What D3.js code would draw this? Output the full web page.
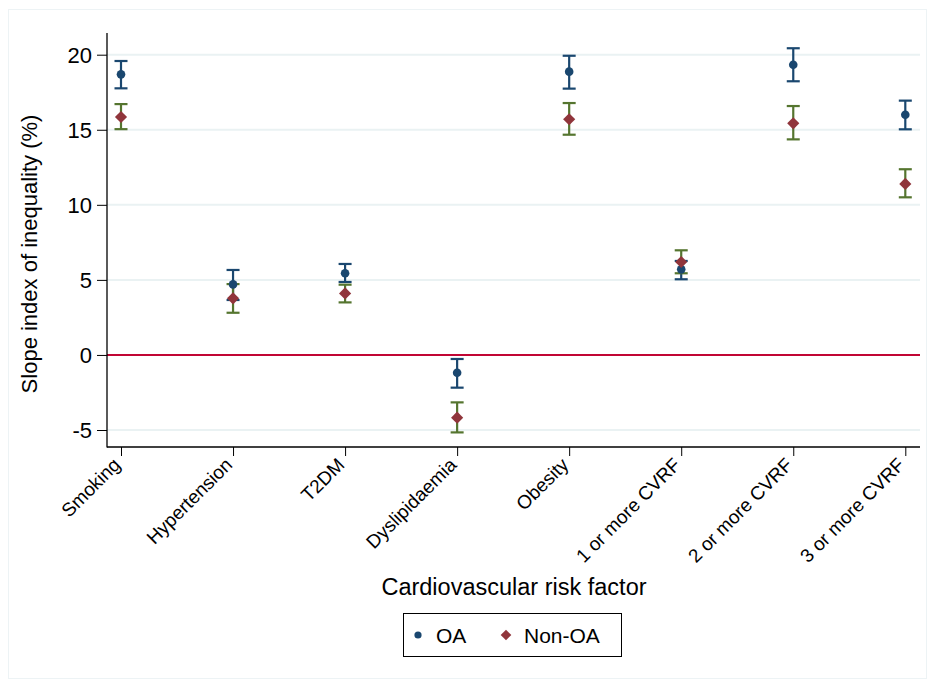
<!DOCTYPE html>
<html><head><meta charset="utf-8">
<script src="https://cdn.jsdelivr.net/npm/d3@7"></script>
<style>body{margin:0;background:#fff}svg{display:block}text{font-family:"Liberation Sans",Arial,sans-serif;fill:#000}</style>
</head><body><svg id="c" width="930" height="684"></svg>
<script>
const categories = ["Smoking","Hypertension","T2DM","Dyslipidaemia","Obesity","1 or more CVRF","2 or more CVRF","3 or more CVRF"];
const oaEst   = [18.69, 4.70, 5.44, -1.19, 18.87, 5.70, 19.33, 16.00];
const oaLow   = [17.76, 3.66, 4.86, -2.18, 17.74, 5.04, 18.23, 15.03];
const oaHigh  = [19.58, 5.66, 6.06, -0.27, 19.93, 6.26, 20.43, 16.94];
const nonEst  = [15.85, 3.77, 4.10, -4.18, 15.70, 6.19, 15.43, 11.39];
const nonLow  = [15.04, 2.81, 3.50, -5.16, 14.67, 5.44, 14.36, 10.50];
const nonHigh = [16.71, 4.72, 4.68, -3.16, 16.78, 6.97, 16.58, 12.37];
const yTicks = [-5, 0, 5, 10, 15, 20];
const gridValues = [-5, 5, 10, 15, 20];
const seriesNames = ["OA", "Non-OA"];

const svg = d3.select("#c");
const C = {navy:"#1a476f", maroon:"#90353b", green:"#55752f", red:"#c10534", grid:"#eaf2f3"};
const FONT = '"Liberation Sans",Arial,sans-serif';

svg.append("rect").attr("x",8.5).attr("y",9.5).attr("width",918).attr("height",669)
  .attr("fill","#fff").attr("stroke","#edf3f5").attr("stroke-width",1);

const L=107, R=920, T=33, B=447;
const y = d3.scaleLinear().domain([-5,20]).range([430,54.7]);
const x = d3.scalePoint().domain(categories).range([121,905.3]);

// grid
svg.append("g").selectAll("line").data(gridValues).join("line")
  .attr("x1",L).attr("x2",R).attr("y1",d=>y(d)).attr("y2",d=>y(d))
  .attr("stroke",C.grid).attr("stroke-width",2);
// zero line
svg.append("line").attr("x1",L).attr("x2",R).attr("y1",y(0)).attr("y2",y(0))
  .attr("stroke",C.red).attr("stroke-width",2);

// axes
const yAxis = d3.axisLeft(y).tickValues(yTicks).tickSize(10).tickPadding(5).tickFormat(d => String(d));
const gy = svg.append("g").attr("transform",`translate(${L},0)`).call(yAxis);
gy.select(".domain").remove();
gy.selectAll(".tick line").attr("stroke","#000").attr("stroke-width",1);
gy.selectAll("text").attr("font-size",22).style("font-family",FONT).attr("dy","0.36em");
svg.append("line").attr("x1",L).attr("x2",L).attr("y1",T).attr("y2",B+0.5).attr("stroke","#000").attr("stroke-width",1.3);

const xAxis = d3.axisBottom(x).tickSize(9).tickPadding(3);
const gx = svg.append("g").attr("transform",`translate(0,${B})`).call(xAxis);
gx.select(".domain").remove();
gx.selectAll(".tick line").attr("stroke","#000").attr("stroke-width",1);
gx.selectAll("text").attr("font-size",19).attr("text-anchor","end")
  .style("font-family",FONT)
  .attr("dy",0).attr("y",0).attr("transform","translate(0,19) rotate(-45)");
svg.append("line").attr("x1",L).attr("x2",R).attr("y1",B).attr("y2",B).attr("stroke","#000").attr("stroke-width",1.3);

// titles
svg.append("text").attr("transform",`translate(37,254) rotate(-90)`).attr("text-anchor","middle")
  .attr("font-size",22).text("Slope index of inequality (%)");
svg.append("text").attr("x",514).attr("y",595).attr("text-anchor","middle")
  .attr("font-size",23.5).text("Cardiovascular risk factor");

// error bars
function drawCI(low, high, color){
  const g = svg.append("g").attr("stroke",color).attr("stroke-width",2.2).attr("fill","none");
  const idx = d3.range(categories.length);
  g.selectAll(".v").data(idx).join("line")
    .attr("x1",i=>x(categories[i])).attr("x2",i=>x(categories[i]))
    .attr("y1",i=>y(low[i])).attr("y2",i=>y(high[i]));
  g.selectAll(".l").data(idx).join("line")
    .attr("x1",i=>x(categories[i])-6.5).attr("x2",i=>x(categories[i])+6.5)
    .attr("y1",i=>y(low[i])).attr("y2",i=>y(low[i]));
  g.selectAll(".h").data(idx).join("line")
    .attr("x1",i=>x(categories[i])-6.5).attr("x2",i=>x(categories[i])+6.5)
    .attr("y1",i=>y(high[i])).attr("y2",i=>y(high[i]));
}
drawCI(oaLow, oaHigh, C.navy);
drawCI(nonLow, nonHigh, C.green);

const circ = d3.symbol().type(d3.symbolCircle).size(Math.PI*4.3*4.3);
const diam = d3.symbol().type(d3.symbolSquare).size(8.6*8.6);
svg.append("g").selectAll("path").data(oaEst).join("path")
  .attr("d",circ).attr("fill",C.navy)
  .attr("transform",(d,i)=>`translate(${x(categories[i])},${y(d)})`);
svg.append("g").selectAll("path").data(nonEst).join("path")
  .attr("d",diam).attr("fill",C.maroon)
  .attr("transform",(d,i)=>`translate(${x(categories[i])},${y(d)}) rotate(45)`);

// legend
const lg = svg.append("g");
lg.append("rect").attr("x",403.5).attr("y",613.5).attr("width",218).attr("height",43)
  .attr("fill","#fff").attr("stroke","#000").attr("stroke-width",1);
lg.append("path").attr("d",d3.symbol().type(d3.symbolCircle).size(Math.PI*3.6*3.6)())
  .attr("fill",C.navy).attr("transform","translate(418,635)");
lg.append("text").attr("x",436).attr("y",642.5).attr("font-size",21).text(seriesNames[0]);
lg.append("path").attr("d",d3.symbol().type(d3.symbolSquare).size(7.5*7.5)())
  .attr("fill",C.maroon).attr("transform","translate(506,635) rotate(45)");
lg.append("text").attr("x",524).attr("y",642.5).attr("font-size",21).text(seriesNames[1]);
</script></body></html>
